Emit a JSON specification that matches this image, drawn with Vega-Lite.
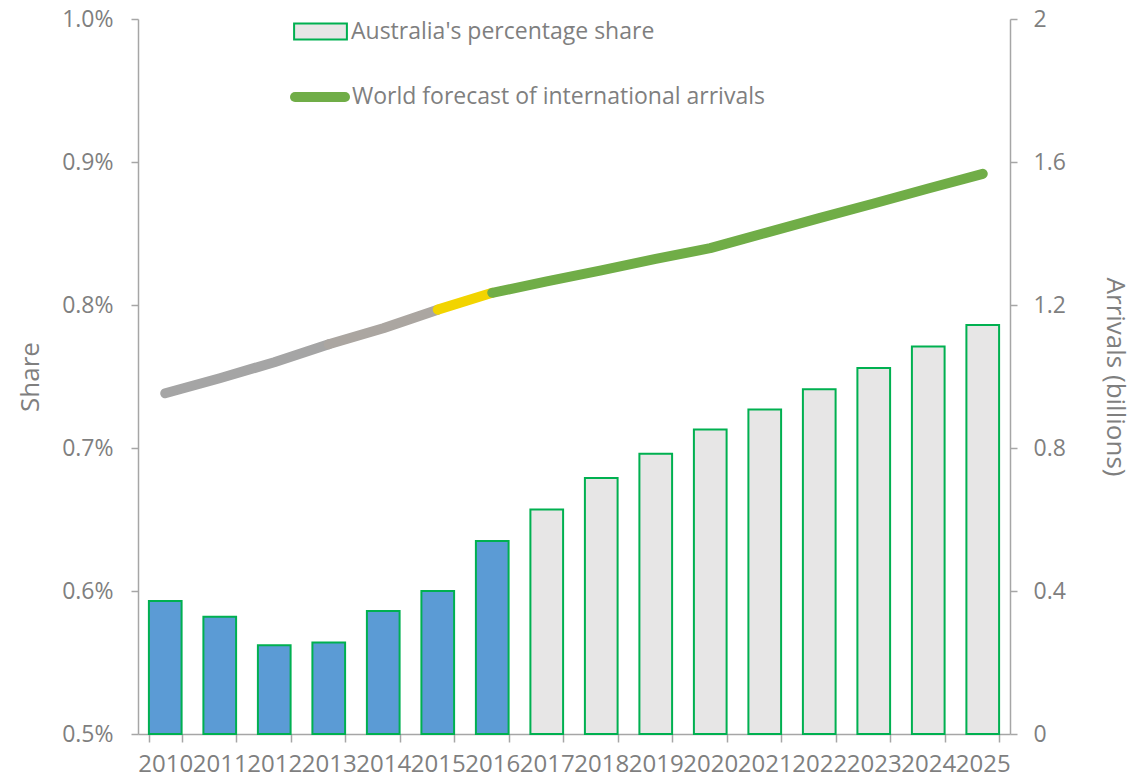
{
  "$schema": "https://vega.github.io/schema/vega-lite/v6.json",
  "width": 872,
  "height": 715,
  "autosize": {"type": "none"},
  "padding": {"left": 138, "top": 19, "right": 132, "bottom": 46},
  "background": "white",
  "config": {
    "view": {"stroke": null},
    "font": "Open Sans",
    "axis": {
      "grid": false,
      "labelFont": "Open Sans",
      "labelFontSize": 23,
      "labelColor": "#7F7F7F",
      "titleFont": "Open Sans",
      "titleFontSize": 26,
      "titleFontWeight": "normal",
      "titleColor": "#7F7F7F",
      "domainColor": "#A6A6A6",
      "domainWidth": 1.5,
      "tickColor": "#A6A6A6",
      "tickWidth": 1.5,
      "tickSize": 7
    },
    "legend": {
      "labelFont": "Open Sans",
      "labelFontSize": 23,
      "labelColor": "#7F7F7F",
      "labelLimit": 0,
      "padding": 0
    }
  },
  "datasets": {
    "bars": [
      {"year": "2010", "share": 0.00593, "phase": "Actual"},
      {"year": "2011", "share": 0.00582, "phase": "Actual"},
      {"year": "2012", "share": 0.00562, "phase": "Actual"},
      {"year": "2013", "share": 0.00564, "phase": "Actual"},
      {"year": "2014", "share": 0.00586, "phase": "Actual"},
      {"year": "2015", "share": 0.00600, "phase": "Actual"},
      {"year": "2016", "share": 0.00635, "phase": "Actual"},
      {"year": "2017", "share": 0.00657, "phase": "Australia's percentage share"},
      {"year": "2018", "share": 0.00679, "phase": "Australia's percentage share"},
      {"year": "2019", "share": 0.00696, "phase": "Australia's percentage share"},
      {"year": "2020", "share": 0.00713, "phase": "Australia's percentage share"},
      {"year": "2021", "share": 0.00727, "phase": "Australia's percentage share"},
      {"year": "2022", "share": 0.00741, "phase": "Australia's percentage share"},
      {"year": "2023", "share": 0.00756, "phase": "Australia's percentage share"},
      {"year": "2024", "share": 0.00771, "phase": "Australia's percentage share"},
      {"year": "2025", "share": 0.00786, "phase": "Australia's percentage share"}
    ],
    "line": [
      {"year": "2010", "arrivals": 0.953, "seg": "hist1"},
      {"year": "2011", "arrivals": 0.995, "seg": "hist1"},
      {"year": "2012", "arrivals": 1.040, "seg": "hist1"},
      {"year": "2013", "arrivals": 1.090, "seg": "hist1"},
      {"year": "2013", "arrivals": 1.090, "seg": "hist2"},
      {"year": "2014", "arrivals": 1.135, "seg": "hist2"},
      {"year": "2015", "arrivals": 1.187, "seg": "hist2"},
      {"year": "2015", "arrivals": 1.187, "seg": "trans"},
      {"year": "2016", "arrivals": 1.234, "seg": "trans"},
      {"year": "2016", "arrivals": 1.234, "seg": "World forecast of international arrivals"},
      {"year": "2017", "arrivals": 1.266, "seg": "World forecast of international arrivals"},
      {"year": "2018", "arrivals": 1.297, "seg": "World forecast of international arrivals"},
      {"year": "2019", "arrivals": 1.329, "seg": "World forecast of international arrivals"},
      {"year": "2020", "arrivals": 1.359, "seg": "World forecast of international arrivals"},
      {"year": "2021", "arrivals": 1.401, "seg": "World forecast of international arrivals"},
      {"year": "2022", "arrivals": 1.443, "seg": "World forecast of international arrivals"},
      {"year": "2023", "arrivals": 1.484, "seg": "World forecast of international arrivals"},
      {"year": "2024", "arrivals": 1.526, "seg": "World forecast of international arrivals"},
      {"year": "2025", "arrivals": 1.567, "seg": "World forecast of international arrivals"}
    ]
  },
  "encoding": {
    "x": {
      "field": "year",
      "type": "ordinal",
      "scale": {"paddingInner": 0.4, "paddingOuter": 0.2},
      "axis": {
        "title": null,
        "labelAngle": 0,
        "labelFontSize": 24,
        "tickBand": "extent",
        "labelPadding": 10,
        "tickSize": 8
      }
    }
  },
  "layer": [
    {
      "data": {"name": "bars"},
      "mark": {"type": "bar", "stroke": "#00B050", "strokeWidth": 2},
      "encoding": {
        "y": {
          "field": "share",
          "type": "quantitative",
          "scale": {"domain": [0.005, 0.01], "nice": false, "zero": false},
          "axis": {
            "title": "Share",
            "format": ".1%",
            "values": [0.005, 0.006, 0.007, 0.008, 0.009, 0.01],
            "labelPadding": 18,
            "titlePadding": 18
          }
        },
        "y2": {"datum": 0.005},
        "fill": {
          "field": "phase",
          "type": "nominal",
          "scale": {
            "domain": ["Australia's percentage share", "Actual"],
            "range": ["#E7E6E6", "#5B9BD5"]
          },
          "legend": {
            "title": null,
            "values": ["Australia's percentage share"],
            "orient": "none",
            "legendX": 171,
            "legendY": 1,
            "symbolType": "M-3.3,-1H3.3V1H-3.3Z",
            "symbolSize": 256,
            "symbolStrokeColor": "#00B050",
            "symbolStrokeWidth": 2,
            "symbolFillColor": "#E7E6E6",
            "labelOffset": 19
          }
        }
      }
    },
    {
      "data": {"name": "line"},
      "mark": {"type": "line", "strokeWidth": 10, "strokeCap": "round", "strokeJoin": "round"},
      "encoding": {
        "y": {
          "field": "arrivals",
          "type": "quantitative",
          "scale": {"domain": [0, 2], "nice": false},
          "axis": {
            "orient": "right",
            "title": "Arrivals (billions)",
            "titleAngle": 90,
            "format": "~g",
            "values": [0, 0.4, 0.8, 1.2, 1.6, 2],
            "labelPadding": 16,
            "titlePadding": 36
          }
        },
        "stroke": {
          "field": "seg",
          "type": "nominal",
          "scale": {
            "domain": ["hist1", "hist2", "trans", "World forecast of international arrivals"],
            "range": ["#A5A5A5", "#ABA6A1", "#F2D400", "#70AD47"]
          },
          "legend": {
            "title": null,
            "values": ["World forecast of international arrivals"],
            "orient": "none",
            "legendX": 152,
            "legendY": 48,
            "symbolType": "stroke",
            "symbolSize": 2500,
            "symbolStrokeWidth": 10,
            "labelOffset": 2,
            "encode": {"symbols": {"update": {"strokeCap": {"value": "round"}}}}
          }
        },
        "order": {"field": "year", "type": "ordinal"}
      }
    }
  ],
  "resolve": {"scale": {"y": "independent"}}
}
